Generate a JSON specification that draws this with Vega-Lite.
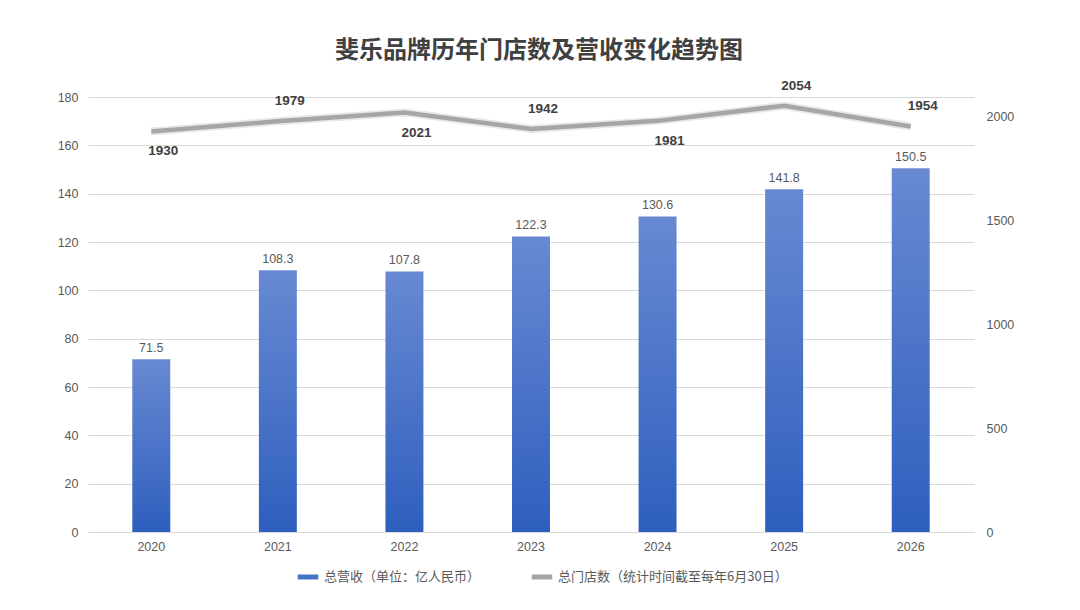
{
  "$schema": "https://vega.github.io/schema/vega-lite/v6.json",
  "autosize": {"type": "none"},
  "padding": {"left": 88, "top": 97, "right": 106, "bottom": 78},
  "width": 886,
  "height": 435,
  "background": "white",
  "title": {
    "text": "斐乐品牌历年门店数及营收变化趋势图",
    "fontSize": 24,
    "fontWeight": "bold",
    "color": "#404040",
    "font": "Noto Sans CJK SC",
    "offset": 16,
    "anchor": "middle",
    "dx": 8
  },
  "config": {
    "font": "Liberation Sans, Noto Sans CJK SC",
    "view": {"stroke": null},
    "axis": {
      "labelColor": "#595959",
      "labelFontSize": 12.5,
      "gridColor": "#d9d9d9",
      "ticks": false,
      "domain": false,
      "title": null
    },
    "legend": {
      "orient": "none",
      "legendX": 207,
      "legendY": 467,
      "direction": "horizontal",
      "title": null,
      "labelFont": "Noto Sans CJK SC",
      "labelFontSize": 13,
      "labelColor": "#595959",
      "labelLimit": 400,
      "labelOffset": 3,
      "symbolType": "stroke",
      "symbolStrokeWidth": 5,
      "symbolSize": 420,
      "columnPadding": 40
    }
  },
  "data": {
    "values": [
      {"year": "2020", "revenue": 71.5, "stores": 1930},
      {"year": "2021", "revenue": 108.3, "stores": 1979},
      {"year": "2022", "revenue": 107.8, "stores": 2021},
      {"year": "2023", "revenue": 122.3, "stores": 1942},
      {"year": "2024", "revenue": 130.6, "stores": 1981},
      {"year": "2025", "revenue": 141.8, "stores": 2054},
      {"year": "2026", "revenue": 150.5, "stores": 1954}
    ]
  },
  "encoding": {
    "x": {
      "field": "year",
      "type": "ordinal",
      "scale": {"paddingInner": 0.7, "paddingOuter": 0.35},
      "axis": {"labelAngle": 0, "domain": true, "domainColor": "#d9d9d9", "labelPadding": 8}
    }
  },
  "layer": [
    {
      "encoding": {
        "y": {
          "field": "revenue",
          "type": "quantitative",
          "scale": {"domain": [0, 180]},
          "axis": {"tickCount": 9, "labelPadding": 10}
        }
      },
      "layer": [
        {
          "mark": {
            "type": "bar",
            "strokeWidth": 0,
            "fill": {
              "gradient": "linear",
              "x1": 0, "y1": 0, "x2": 0, "y2": 1,
              "stops": [
                {"offset": 0, "color": "#6889d2"},
                {"offset": 1, "color": "#2e5fbe"}
              ]
            }
          },
          "encoding": {
            "stroke": {
              "datum": "总营收（单位：亿人民币）",
              "scale": {
                "domain": ["总营收（单位：亿人民币）", "总门店数（统计时间截至每年6月30日）"],
                "range": ["#4472c4", "#a6a6a6"]
              }
            }
          }
        },
        {
          "mark": {"type": "text", "dy": -11, "fontSize": 12.5, "color": "#595959"},
          "encoding": {
            "text": {"field": "revenue", "type": "quantitative", "format": ".1f"}
          }
        }
      ]
    },
    {
      "encoding": {
        "y": {
          "field": "stores",
          "type": "quantitative",
          "scale": {"domain": [0, 2096]},
          "axis": {"orient": "right", "values": [0, 500, 1000, 1500, 2000], "format": "d", "grid": false, "labelPadding": 12}
        }
      },
      "layer": [
        {
          "mark": {"type": "line", "strokeWidth": 8, "color": "#e6e6e6", "opacity": 0.9}
        },
        {
          "mark": {"type": "line", "strokeWidth": 4.5},
          "encoding": {
            "stroke": {"datum": "总门店数（统计时间截至每年6月30日）"}
          }
        },
        {
          "transform": [{"filter": {"field": "year", "oneOf": ["2021", "2023", "2025", "2026"]}}],
          "mark": {"type": "text", "dy": -20, "dx": 12, "fontSize": 13.5, "fontWeight": "bold", "color": "#404040"},
          "encoding": {
            "text": {"field": "stores", "type": "quantitative"}
          }
        },
        {
          "transform": [{"filter": {"field": "year", "oneOf": ["2020", "2022", "2024"]}}],
          "mark": {"type": "text", "dy": 20, "dx": 12, "fontSize": 13.5, "fontWeight": "bold", "color": "#404040"},
          "encoding": {
            "text": {"field": "stores", "type": "quantitative"}
          }
        }
      ]
    }
  ],
  "resolve": {"scale": {"y": "independent"}}
}
